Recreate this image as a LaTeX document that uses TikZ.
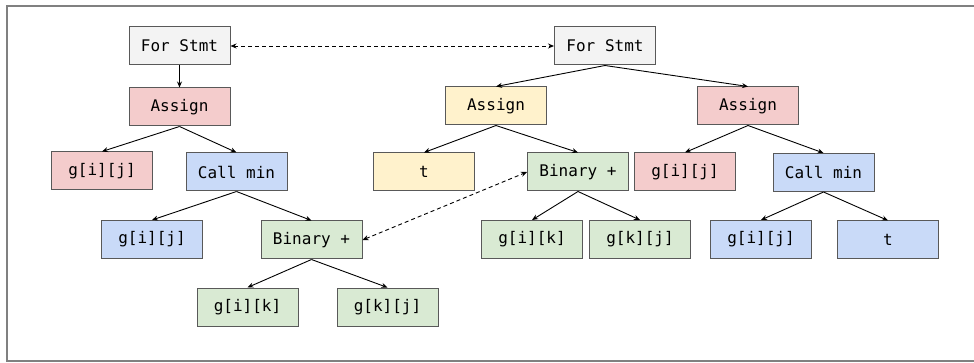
\documentclass[tikz,border=0pt]{standalone}
\usepackage{fontspec}
\setmonofont{DejaVu Sans Mono}
\usetikzlibrary{arrows.meta}
\definecolor{cgrey}{HTML}{F3F3F3}
\definecolor{cred}{HTML}{F4CCCC}
\definecolor{cblue}{HTML}{C9DAF8}
\definecolor{cyellow}{HTML}{FFF2CC}
\definecolor{cgreen}{HTML}{D9EAD3}
\definecolor{cborder}{HTML}{595959}
\definecolor{cframe}{HTML}{808080}
\tikzset{
  box/.style={draw=cborder, line width=1pt, minimum width=101pt, minimum height=38pt, inner sep=0pt,
    font=\ttfamily\fontsize{16}{19}\selectfont},
  greybox/.style={box, fill=cgrey},
  redbox/.style={box, fill=cred},
  bluebox/.style={box, fill=cblue},
  yellowbox/.style={box, fill=cyellow},
  greenbox/.style={box, fill=cgreen},
  edge/.style={line width=0.9pt, -{Stealth[length=6pt,width=5pt]}},
  link/.style={line width=0.9pt, dash pattern=on 4pt off 3pt, {Stealth[length=6pt,width=5pt]}-{Stealth[length=6pt,width=5pt]}},
}
\begin{document}
\begin{tikzpicture}[x=1pt,y=-1pt]
\useasboundingbox (0,0) rectangle (974,363);
\draw[cframe, line width=1.5pt] (7,6) rectangle (990,361);
% left tree
\node[greybox] (f1) at (179.5,46) {For Stmt};
\node[redbox] (a1) at (179.5,107) {Assign};
\node[redbox] (g1) at (102,171) {g[i][j]};
\node[bluebox] (c1) at (236.5,172) {Call min};
\node[bluebox] (g2) at (152,239.5) {g[i][j]};
\node[greenbox] (b1) at (311.5,240) {Binary +};
\node[greenbox] (k1) at (247.5,307) {g[i][k]};
\node[greenbox] (k2) at (387.5,307) {g[k][j]};
% right tree
\node[greybox] (f2) at (605,46) {For Stmt};
\node[yellowbox] (a2) at (496,106) {Assign};
\node[yellowbox] (t1) at (424,172) {t};
\node[greenbox] (b2) at (578,172) {Binary +};
\node[redbox] (a3) at (748,106) {Assign};
\node[redbox] (g3) at (685,172) {g[i][j]};
\node[bluebox] (c2) at (823.5,172.5) {Call min};
\node[greenbox] (k3) at (532,239.5) {g[i][k]};
\node[greenbox] (k4) at (640,239.5) {g[k][j]};
\node[bluebox] (g4) at (761,239.5) {g[i][j]};
\node[bluebox] (t2) at (888,240) {t};
% edges
\draw[edge] (f1.south) -- (a1.north);
\draw[edge] (a1.south) -- (g1.north);
\draw[edge] (a1.south) -- (c1.north);
\draw[edge] (c1.south) -- (g2.north);
\draw[edge] (c1.south) -- (b1.north);
\draw[edge] (b1.south) -- (k1.north);
\draw[edge] (b1.south) -- (k2.north);
\draw[edge] (f2.south) -- (a2.north);
\draw[edge] (f2.south) -- (a3.north);
\draw[edge] (a2.south) -- (t1.north);
\draw[edge] (a2.south) -- (b2.north);
\draw[edge] (b2.south) -- (k3.north);
\draw[edge] (b2.south) -- (k4.north);
\draw[edge] (a3.south) -- (g3.north);
\draw[edge] (a3.south) -- (c2.north);
\draw[edge] (c2.south) -- (g4.north);
\draw[edge] (c2.south) -- (t2.north);
% links
\draw[link] (f1.east) -- (f2.west);
\draw[link] (b1.east) -- (b2.west);
\end{tikzpicture}
\end{document}
